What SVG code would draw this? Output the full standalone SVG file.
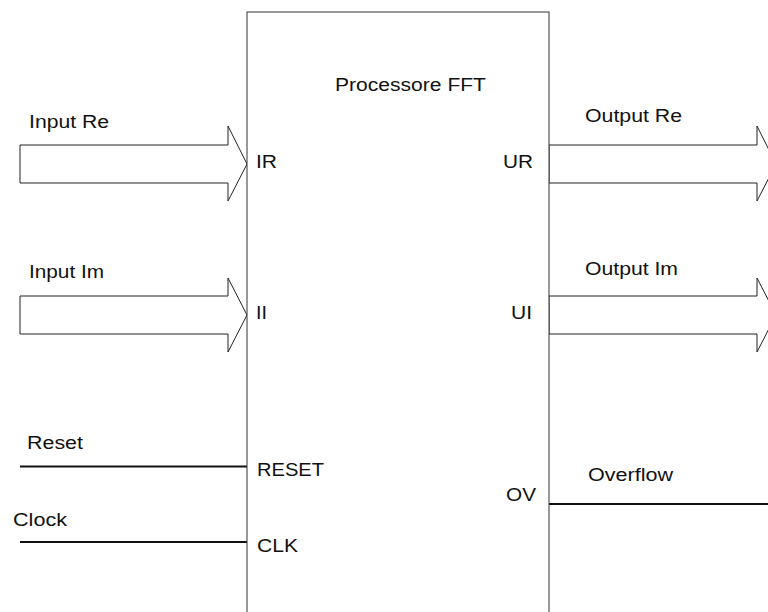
<svg xmlns="http://www.w3.org/2000/svg" width="768" height="612" viewBox="0 0 768 612">
<style>
text{font-family:"Liberation Sans",Arial,sans-serif;font-size:18px;fill:#111;}
.arrow{fill:#fff;stroke:#222;stroke-width:1;}
.wire{stroke:#111;stroke-width:2;fill:none;}
.box{fill:#fff;stroke:#333;stroke-width:1;}
</style>
<rect width="768" height="612" fill="#fff"/>
<g id="connectors">
  <polygon class="arrow" points="20,145 228,145 228,126 247,164 228,201 228,183 20,183"/>
  <polygon class="arrow" points="20,296 228,296 228,278 247,315 228,352 228,334 20,334"/>
  <polygon class="arrow" points="549,145 757,145 757,126 776,164 757,201 757,183 549,183"/>
  <polygon class="arrow" points="549,296 757,296 757,278 776,315 757,352 757,334 549,334"/>
  <line class="wire" x1="20" y1="466.5" x2="247" y2="466.5"/>
  <line class="wire" x1="20" y1="542" x2="247" y2="542"/>
  <line class="wire" x1="549" y1="504" x2="768" y2="504"/>
  <text x="29" y="128" textLength="80" lengthAdjust="spacingAndGlyphs">Input Re</text>
  <text x="29" y="278" textLength="75" lengthAdjust="spacingAndGlyphs">Input Im</text>
  <text x="585" y="122" textLength="97" lengthAdjust="spacingAndGlyphs">Output Re</text>
  <text x="585" y="275" textLength="93" lengthAdjust="spacingAndGlyphs">Output Im</text>
  <text x="27" y="449" textLength="56" lengthAdjust="spacingAndGlyphs">Reset</text>
  <text x="13" y="526" textLength="54" lengthAdjust="spacingAndGlyphs">Clock</text>
  <text x="588" y="481" textLength="85" lengthAdjust="spacingAndGlyphs">Overflow</text>
</g>
<g id="fft-processor">
  <rect class="box" x="247" y="12" width="302" height="620"/>
  <text x="335" y="91" textLength="151" lengthAdjust="spacingAndGlyphs">Processore FFT</text>
  <text x="256" y="168" textLength="21" lengthAdjust="spacingAndGlyphs">IR</text>
  <text x="503" y="168" textLength="30" lengthAdjust="spacingAndGlyphs">UR</text>
  <text x="256" y="319" textLength="11" lengthAdjust="spacingAndGlyphs">II</text>
  <text x="511" y="319" textLength="21" lengthAdjust="spacingAndGlyphs">UI</text>
  <text x="257" y="476" textLength="67" lengthAdjust="spacingAndGlyphs">RESET</text>
  <text x="257" y="552" textLength="41" lengthAdjust="spacingAndGlyphs">CLK</text>
  <text x="506" y="501" textLength="30" lengthAdjust="spacingAndGlyphs">OV</text>
</g>
</svg>
